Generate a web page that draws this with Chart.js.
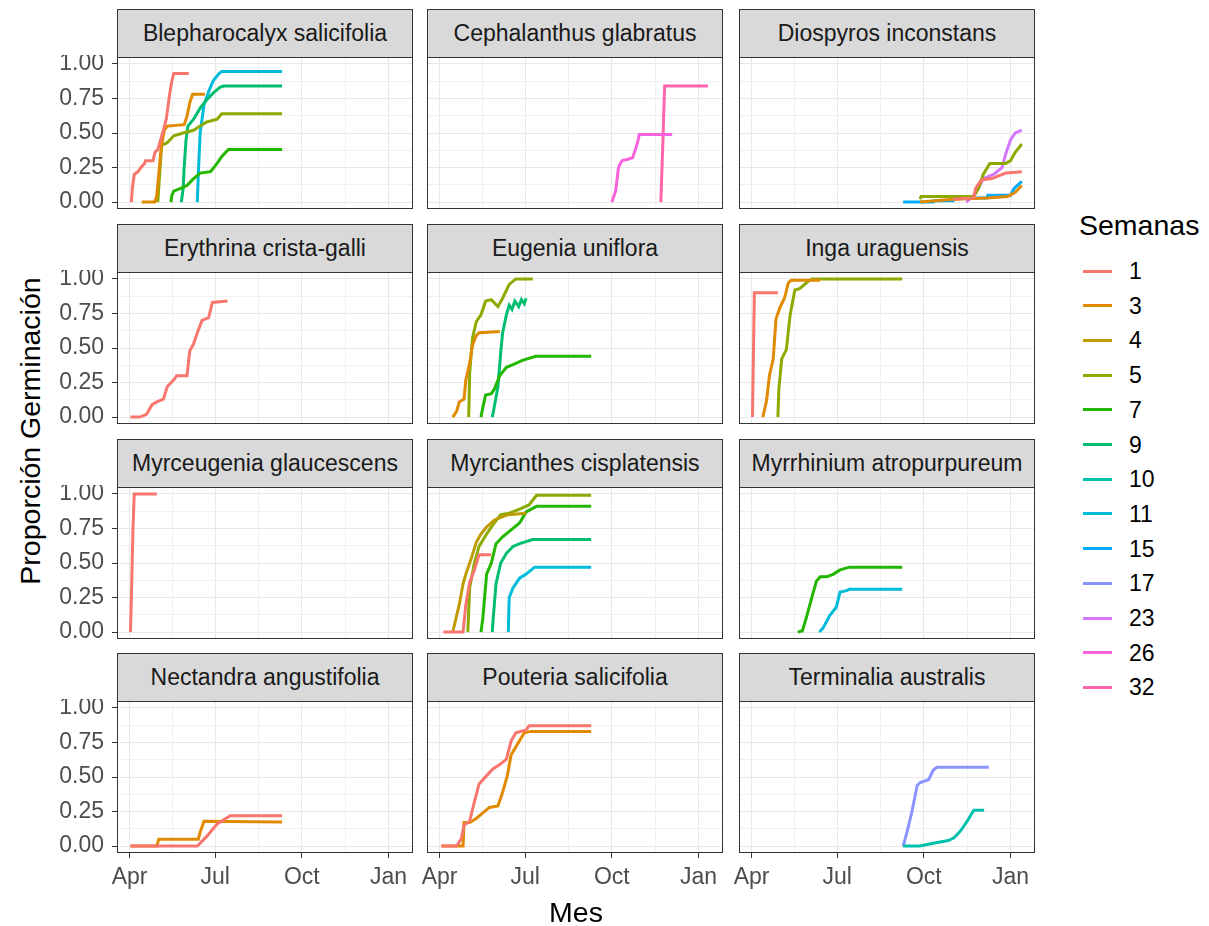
<!DOCTYPE html>
<html>
<head>
<meta charset="utf-8">
<script src="https://cdn.jsdelivr.net/npm/chart.js@4/dist/chart.umd.min.js"></script>
<style>
  body { margin: 0; background: #fff; width: 1209px; height: 926px; position: relative; overflow: hidden;
         font-family: "Liberation Sans", Arial, sans-serif; }
  .strip { position: absolute; background: #d9d9d9; border: 1px solid #333; box-sizing: border-box;
           color: #1a1a1a; font-size: 23px; text-align: center; white-space: nowrap; }
  .panel { position: absolute; }
  .title { position: absolute; color: #000; font-size: 28.5px; white-space: nowrap; }
  .key { position: absolute; height: 3px; width: 29px; }
  .klab { position: absolute; font-size: 23px; color: #000; }
</style>
</head>
<body>
<div id="root"></div>
<script>
// Semanas (legend levels) and their ggplot hue colours
const weekLevels = ["1", "3", "4", "5", "7", "9", "10", "11", "15", "17", "23", "26", "32"];
const weekColors = ["#F8766D", "#E18A00", "#BE9C00", "#8CAB00", "#24B700", "#00BE70", "#00C1AB",
                    "#00BBDA", "#00ACFC", "#8B93FF", "#D575FE", "#F962DD", "#FF65AC"];

// x = days since 1 Apr, y = proportion germinated
const monthTicks = [0, 91, 183, 275];
const monthLabels = ["Apr", "Jul", "Oct", "Jan"];
const propTicks = [0, 0.25, 0.5, 0.75, 1];

const panelTitles = [
  "Blepharocalyx salicifolia", "Cephalanthus glabratus", "Diospyros inconstans",
  "Erythrina crista-galli", "Eugenia uniflora", "Inga uraguensis",
  "Myrceugenia glaucescens", "Myrcianthes cisplatensis", "Myrrhinium atropurpureum",
  "Nectandra angustifolia", "Pouteria salicifolia", "Terminalia australis"
];

const blepharocalyx = {
  "1": [[2,0],[3,0.1],[5,0.2],[9,0.22],[12,0.25],[16,0.28],[17,0.3],[25,0.3],[27,0.36],[30,0.38],[33,0.45],[36,0.52],[39,0.6],[41,0.7],[43,0.8],[45,0.88],[47,0.93],[63,0.93]],
  "3": [[13,0],[27,0],[29,0.05],[31,0.2],[33,0.35],[35,0.45],[37,0.52],[40,0.55],[58,0.56],[61,0.62],[64,0.72],[67,0.78],[80,0.78]],
  "5": [[30,0],[31,0.1],[33,0.3],[34,0.41],[40,0.43],[47,0.48],[57,0.5],[68,0.52],[75,0.55],[82,0.58],[93,0.6],[98,0.64],[162,0.64]],
  "7": [[44,0],[45,0.05],[47,0.08],[54,0.1],[61,0.12],[68,0.17],[75,0.21],[86,0.22],[93,0.28],[98,0.33],[105,0.38],[162,0.38]],
  "9": [[55,0],[56,0.05],[57,0.1],[58,0.25],[60,0.45],[62,0.55],[68,0.6],[75,0.68],[82,0.74],[89,0.79],[96,0.83],[100,0.84],[162,0.84]],
  "11": [[72,0],[73,0.2],[75,0.5],[77,0.6],[79,0.7],[84,0.8],[89,0.88],[95,0.93],[98,0.945],[162,0.945]]
};
const cephalanthus = {
  "26": [[183,0],[187,0.08],[190,0.25],[192,0.28],[194,0.3],[200,0.31],[205,0.32],[208,0.38],[211,0.45],[212,0.49],[247,0.49]],
  "32": [[235,0],[236,0.2],[237,0.4],[238,0.62],[239,0.84],[285,0.84]]
};
const diospyros = {
  "1": [[214,0.02],[236,0.03],[238,0.1],[241,0.13],[244,0.16],[255,0.17],[270,0.21],[287,0.22]],
  "3": [[179,0],[214,0.02],[250,0.03],[272,0.04],[280,0.07],[287,0.12]],
  "5": [[179,0.02],[180,0.04],[236,0.04],[241,0.1],[246,0.2],[253,0.28],[270,0.28],[275,0.3],[280,0.36],[287,0.42]],
  "15": [[161,0],[193,0],[194,0.01],[214,0.01],[215,0.03],[250,0.03],[251,0.05],[275,0.05],[279,0.1],[287,0.15]],
  "23": [[228,0],[236,0.05],[241,0.1],[246,0.17],[257,0.2],[266,0.25],[270,0.35],[275,0.45],[280,0.5],[287,0.52]]
};
const erythrina = {
  "1": [[1,0],[11,0],[18,0.02],[24,0.09],[29,0.11],[36,0.13],[40,0.22],[47,0.27],[50,0.3],[61,0.3],[64,0.48],[68,0.53],[72,0.61],[77,0.7],[84,0.72],[88,0.83],[104,0.84]]
};
const eugenia = {
  "3": [[14,0],[18,0.04],[21,0.11],[26,0.13],[28,0.27],[32,0.39],[35,0.52],[39,0.59],[42,0.61],[64,0.62]],
  "5": [[31,0],[32,0.32],[35,0.57],[39,0.69],[44,0.74],[49,0.84],[55,0.85],[62,0.8],[67,0.86],[74,0.96],[81,1.0],[99,1.0]],
  "7": [[44,0],[46,0.07],[49,0.16],[55,0.17],[58,0.2],[64,0.3],[71,0.36],[78,0.38],[88,0.41],[102,0.44],[161,0.44]],
  "9": [[56,0],[58,0.07],[62,0.22],[65,0.47],[67,0.61],[71,0.74],[74,0.81],[77,0.78],[80,0.84],[84,0.8],[87,0.85],[90,0.82],[92,0.86]]
};
const inga = {
  "1": [[1,0],[2,0.44],[3,0.9],[28,0.9]],
  "3": [[12,0],[16,0.12],[19,0.3],[23,0.42],[26,0.71],[30,0.79],[35,0.86],[39,0.97],[42,0.99],[73,0.99]],
  "5": [[28,0],[29,0.2],[32,0.42],[37,0.49],[41,0.74],[46,0.92],[51,0.93],[58,0.97],[64,1.0],[160,1.0]]
};
const myrceugenia = {
  "1": [[1,0],[2,0.25],[3.5,0.71],[5,1.0],[29,1.0]]
};
const myrcianthes = {
  "1": [[4,0],[25,0],[28,0.2],[32,0.36],[37,0.45],[42,0.56],[55,0.56]],
  "4": [[14,0],[21,0.2],[25,0.35],[28,0.42],[34,0.54],[39,0.65],[44,0.71],[50,0.76],[58,0.81],[65,0.83],[73,0.85],[92,0.86]],
  "5": [[30,0],[32,0.32],[37,0.5],[42,0.62],[50,0.71],[57,0.78],[65,0.85],[74,0.86],[85,0.89],[95,0.92],[103,0.99],[161,0.99]],
  "7": [[44,0],[46,0.1],[50,0.42],[55,0.5],[60,0.64],[67,0.69],[76,0.74],[85,0.79],[92,0.87],[103,0.91],[161,0.91]],
  "9": [[56,0],[57,0.1],[60,0.35],[65,0.5],[71,0.57],[78,0.62],[85,0.64],[99,0.67],[161,0.67]],
  "11": [[73,0],[74,0.25],[78,0.32],[85,0.39],[92,0.42],[101,0.47],[161,0.47]]
};
const myrrhinium = {
  "7": [[49,0],[54,0.01],[58,0.1],[64,0.25],[69,0.37],[73,0.4],[80,0.4],[87,0.42],[94,0.45],[104,0.47],[160,0.47]],
  "11": [[72,0],[76,0.03],[83,0.12],[90,0.18],[94,0.29],[101,0.3],[104,0.31],[160,0.31]]
};
const nectandra = {
  "1": [[1,0],[72,0],[82,0.07],[93,0.16],[107,0.22],[162,0.22]],
  "3": [[1,0],[29,0],[31,0.05],[73,0.05],[75,0.1],[79,0.18],[162,0.175]]
};
const pouteria = {
  "1": [[2,0],[18,0],[23,0.05],[26,0.15],[32,0.18],[37,0.32],[42,0.45],[50,0.51],[57,0.56],[64,0.59],[71,0.63],[76,0.76],[81,0.82],[92,0.84],[95,0.87],[161,0.87]],
  "3": [[2,0],[25,0],[26,0.17],[32,0.17],[39,0.2],[46,0.24],[53,0.28],[62,0.29],[67,0.39],[72,0.51],[76,0.66],[83,0.74],[90,0.82],[97,0.83],[161,0.83]]
};
const terminalia = {
  "10": [[161,0],[179,0],[193,0.02],[209,0.04],[215,0.06],[222,0.11],[229,0.18],[236,0.26],[247,0.26]],
  "17": [[161,0],[165,0.1],[170,0.24],[176,0.44],[179,0.46],[188,0.48],[193,0.55],[197,0.57],[252,0.57]]
};

const panelData = [blepharocalyx, cephalanthus, diospyros, erythrina, eugenia, inga,
                   myrceugenia, myrcianthes, myrrhinium, nectandra, pouteria, terminalia];

// layout
const colLeft = [117, 427, 739];
const stripTop = [9, 224, 439, 653];
const W = 296, stripH = 48, plotH = 152;
const padL = 70, padB = 45, padT = 2, padR = 2;

const root = document.getElementById("root");
const xMinor = [45.5, 137, 229];
const yMinor = [0.125, 0.375, 0.625, 0.875];

const borderPlugin = {
  id: "panelBorder",
  afterDraw(chart) {
    const a = chart.chartArea, c = chart.ctx;
    c.save();
    c.strokeStyle = "#333";
    c.lineWidth = 1;
    c.strokeRect(Math.round(a.left) + 0.5, Math.round(a.top) + 0.5, Math.round(a.right - a.left) - 1, Math.round(a.bottom - a.top) - 1);
    c.restore();
  }
};

panelTitles.forEach((title, i) => {
  const r = Math.floor(i / 3), col = i % 3;
  const left = colLeft[col], top = stripTop[r];

  const strip = document.createElement("div");
  strip.className = "strip";
  strip.style.left = left + "px";
  strip.style.top = top + "px";
  strip.style.width = W + "px";
  strip.style.height = (stripH + 1) + "px";
  strip.style.lineHeight = (stripH - 1) + "px";
  strip.textContent = title;

  const wrap = document.createElement("div");
  wrap.className = "panel";
  wrap.style.left = (left - padL) + "px";
  wrap.style.top = (top + stripH - padT) + "px";
  const cv = document.createElement("canvas");
  cv.width = W + padL + padR;
  cv.height = plotH + padB + padT;
  wrap.appendChild(cv);
  root.appendChild(wrap);
  root.appendChild(strip);

  const showY = col === 0, showX = r === 3;
  const data = panelData[i];
  const datasets = weekLevels.map((w, k) => data[w] ? {
    label: w,
    data: data[w].map(p => ({ x: p[0], y: p[1] })),
    borderColor: weekColors[k],
    borderWidth: 3,
    pointRadius: 0,
    tension: 0,
    fill: false
  } : null).filter(Boolean);

  new Chart(cv, {
    type: "line",
    data: { datasets },
    plugins: [borderPlugin],
    options: {
      responsive: false,
      animation: false,
      layout: { padding: { top: padT, right: padR, left: 0, bottom: 0 } },
      plugins: { legend: { display: false }, tooltip: { enabled: false } },
      scales: {
        x: {
          type: "linear", min: -13.3, max: 301,
          afterBuildTicks: s => { s.ticks = monthTicks.concat(xMinor).sort((a, b) => a - b).map(v => ({ value: v })); },
          afterFit: s => { s.height = padB; s.paddingLeft = 0; s.paddingRight = 0; },
          border: { display: false },
          grid: {
            color: ctx => monthTicks.includes(ctx.tick && ctx.tick.value) ? "#e8e8e8" : "#f1f1f1",
            lineWidth: 1,
            drawTicks: showX,
            tickLength: 5,
            tickColor: ctx => monthTicks.includes(ctx.tick && ctx.tick.value) ? "#333" : "rgba(0,0,0,0)"
          },
          ticks: {
            display: showX, autoSkip: false, maxRotation: 0, padding: 6,
            color: "#4d4d4d", font: { family: "Liberation Sans", size: 23 },
            callback: v => { const k = monthTicks.indexOf(v); return k >= 0 ? monthLabels[k] : ""; }
          }
        },
        y: {
          type: "linear", min: -0.05, max: 1.05,
          afterBuildTicks: s => { s.ticks = propTicks.concat(yMinor).sort((a, b) => a - b).map(v => ({ value: v })); },
          afterFit: s => { s.width = padL; s.paddingTop = 0; s.paddingBottom = 0; },
          border: { display: false },
          grid: {
            color: ctx => propTicks.includes(ctx.tick && ctx.tick.value) ? "#e8e8e8" : "#f1f1f1",
            lineWidth: 1,
            drawTicks: showY,
            tickLength: 5,
            tickColor: ctx => propTicks.includes(ctx.tick && ctx.tick.value) ? "#333" : "rgba(0,0,0,0)"
          },
          ticks: {
            display: showY, autoSkip: false, padding: 8,
            color: "#4d4d4d", font: { family: "Liberation Sans", size: 23 },
            callback: v => propTicks.includes(v) ? v.toFixed(2) : ""
          }
        }
      }
    }
  });
});

// axis titles
const yTitle = document.createElement("div");
yTitle.className = "title";
yTitle.textContent = "Proporción Germinación";
yTitle.style.left = "30px";
yTitle.style.top = "431px";
yTitle.style.transform = "translate(-50%, -50%) rotate(-90deg)";
root.appendChild(yTitle);

const xTitle = document.createElement("div");
xTitle.className = "title";
xTitle.textContent = "Mes";
xTitle.style.left = "576px";
xTitle.style.top = "912px";
xTitle.style.transform = "translate(-50%, -50%)";
root.appendChild(xTitle);

// legend
const lgTitle = document.createElement("div");
lgTitle.className = "title";
lgTitle.textContent = "Semanas";
lgTitle.style.left = "1079px";
lgTitle.style.top = "225px";
lgTitle.style.transform = "translateY(-50%)";
root.appendChild(lgTitle);

weekLevels.forEach((w, k) => {
  const y = 271 + k * 34.7;
  const key = document.createElement("div");
  key.className = "key";
  key.style.left = "1083px";
  key.style.top = (y - 1.5) + "px";
  key.style.background = weekColors[k];
  root.appendChild(key);
  const lab = document.createElement("div");
  lab.className = "klab";
  lab.textContent = w;
  lab.style.left = "1129px";
  lab.style.top = y + "px";
  lab.style.transform = "translateY(-50%)";
  root.appendChild(lab);
});
</script>
</body>
</html>
